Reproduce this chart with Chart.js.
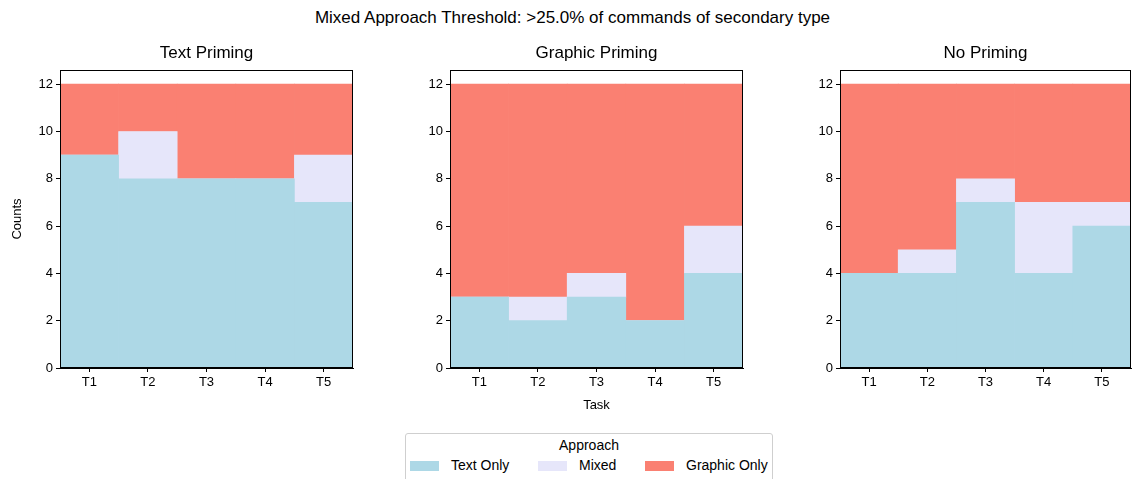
<!DOCTYPE html>
<html>
<head>
<meta charset="utf-8">
<script src="https://cdn.jsdelivr.net/npm/chart.js@4/dist/chart.umd.min.js"></script>
<style>
  body { margin: 0; background: #fff; font-family: "Liberation Sans", Arial, sans-serif; }
  #wrap { position: relative; width: 1132px; height: 479px; overflow: hidden; }
  .panel { position: absolute; top: 0; height: 420px; }
  #suptitle { position: absolute; top: 8px; left: 0; width: 1145px; text-align: center; font-size: 17px; color: #000; }
  .ptitle { position: absolute; top: 43px; text-align: center; font-size: 17px; line-height: 20px; color: #000; }
  #legend { position: absolute; left: 405px; top: 433px; width: 366px; height: 50px; border: 1px solid #cfcfcf; border-radius: 3px; background: #fff; font-size: 14px; color: #000; }
  #legend .ttl { position: absolute; top: 3px; left: 0; width: 100%; text-align: center; }
  #legend .item { position: absolute; top: 23px; white-space: nowrap; }
  #legend .sw { display: inline-block; width: 29px; height: 10px; vertical-align: -1px; margin-right: 12px; }
</style>
</head>
<body>
<div id="wrap">
  <div id="suptitle">Mixed Approach Threshold: &gt;25.0% of commands of secondary type</div>
  <canvas id="c0" class="panel" style="left:0px"></canvas>
  <canvas id="c1" class="panel" style="left:390px"></canvas>
  <canvas id="c2" class="panel" style="left:780px"></canvas>
  <div id="legend"><div class="ttl">Approach</div></div>
</div>
<script>
// Dados
const tasks = ['T1', 'T2', 'T3', 'T4', 'T5'];
const panelTitles = ['Text Priming', 'Graphic Priming', 'No Priming'];
const seriesNames = ['Text Only', 'Mixed', 'Graphic Only'];
const seriesColors = ['#add8e6', '#e6e6fa', '#fa8072'];

const textOnly = [
    [9, 8, 8, 8, 7],
    [3, 2, 3, 2, 4],
    [4, 4, 7, 4, 6]
];
const mixed = [
    [0, 2, 0, 0, 2],
    [0, 1, 1, 0, 2],
    [0, 1, 1, 3, 1]
];
const graphicOnly = [
    [3, 2, 4, 4, 3],
    [9, 9, 8, 10, 6],
    [8, 7, 4, 5, 5]
];
const yTicks = [0, 2, 4, 6, 8, 10, 12];

const fonte = "'Liberation Sans', Arial, sans-serif";
Chart.defaults.font.family = fonte;
Chart.defaults.color = '#000';

// moldura preta em volta da área do gráfico (como no matplotlib)
const moldura = {
    id: 'moldura',
    afterDraw(chart) {
        const a = chart.chartArea;
        const ctx = chart.ctx;
        ctx.save();
        ctx.strokeStyle = '#000';
        ctx.lineWidth = 1;
        ctx.strokeRect(Math.round(a.left) + 0.5, Math.round(a.top) + 0.5,
            Math.round(a.right - a.left) - 1, Math.round(a.bottom - a.top) - 1);
        ctx.restore();
    }
};

const esquerdas = [0, 390, 780];
const larguras = [390, 390, 352];
const padDireita = [37, 37, 1];

function criarPainel(i) {
    const canvas = document.getElementById('c' + i);
    canvas.width = larguras[i];
    canvas.height = 420;
    canvas.style.width = larguras[i] + 'px';
    canvas.style.height = '420px';

    // título do painel centrado sobre a área do gráfico
    const t = document.createElement('div');
    t.className = 'ptitle';
    t.style.left = (esquerdas[i] + 60) + 'px';
    t.style.width = (larguras[i] - 60 - padDireita[i]) + 'px';
    t.textContent = panelTitles[i];
    document.getElementById('wrap').appendChild(t);

    const valores = [textOnly[i], mixed[i], graphicOnly[i]];
    new Chart(canvas.getContext('2d'), {
        type: 'bar',
        data: {
            labels: tasks,
            datasets: seriesNames.map((nome, k) => ({
                label: nome,
                data: valores[k],
                backgroundColor: seriesColors[k],
                borderWidth: 0,
                barPercentage: 1,
                categoryPercentage: 1
            }))
        },
        options: {
            responsive: false,
            animation: false,
            layout: { padding: { top: 70, right: padDireita[i], bottom: 0, left: 0 } },
            plugins: {
                legend: { display: false },
                tooltip: { enabled: false },
                title: { display: false }
            },
            scales: {
                x: {
                    stacked: true,
                    grid: { display: true, offset: false, drawOnChartArea: false, drawTicks: true, tickLength: 4, color: '#000' },
                    border: { display: true, color: '#000' },
                    ticks: { font: { size: 13 }, padding: 3, maxRotation: 0 },
                    title: {
                        display: i === 1,
                        text: 'Task',
                        font: { size: 13 },
                        padding: { top: 0, bottom: 7 }
                    },
                    afterFit(scale) { scale.height = 52; }
                },
                y: {
                    stacked: true,
                    min: 0,
                    max: 12.6,
                    grid: { display: true, drawOnChartArea: false, drawTicks: true, tickLength: 4, color: '#000' },
                    border: { display: true, color: '#000' },
                    afterBuildTicks(scale) { scale.ticks = yTicks.map(v => ({ value: v })); },
                    ticks: { font: { size: 13 }, padding: 3 },
                    title: {
                        display: i === 0,
                        text: 'Counts',
                        font: { size: 13 },
                        padding: { top: 10, bottom: 0 }
                    },
                    afterFit(scale) { scale.width = 60; }
                }
            }
        },
        plugins: [moldura]
    });
}

function criarLegenda() {
    const leg = document.getElementById('legend');
    const posicoes = [4, 132, 239];
    seriesNames.forEach((nome, k) => {
        const item = document.createElement('div');
        item.className = 'item';
        item.style.left = posicoes[k] + 'px';
        item.innerHTML = '<span class="sw" style="background:' + seriesColors[k] + '"></span>' + nome;
        leg.appendChild(item);
    });
}

panelTitles.forEach((t, i) => criarPainel(i));
criarLegenda();
</script>
</body>
</html>
